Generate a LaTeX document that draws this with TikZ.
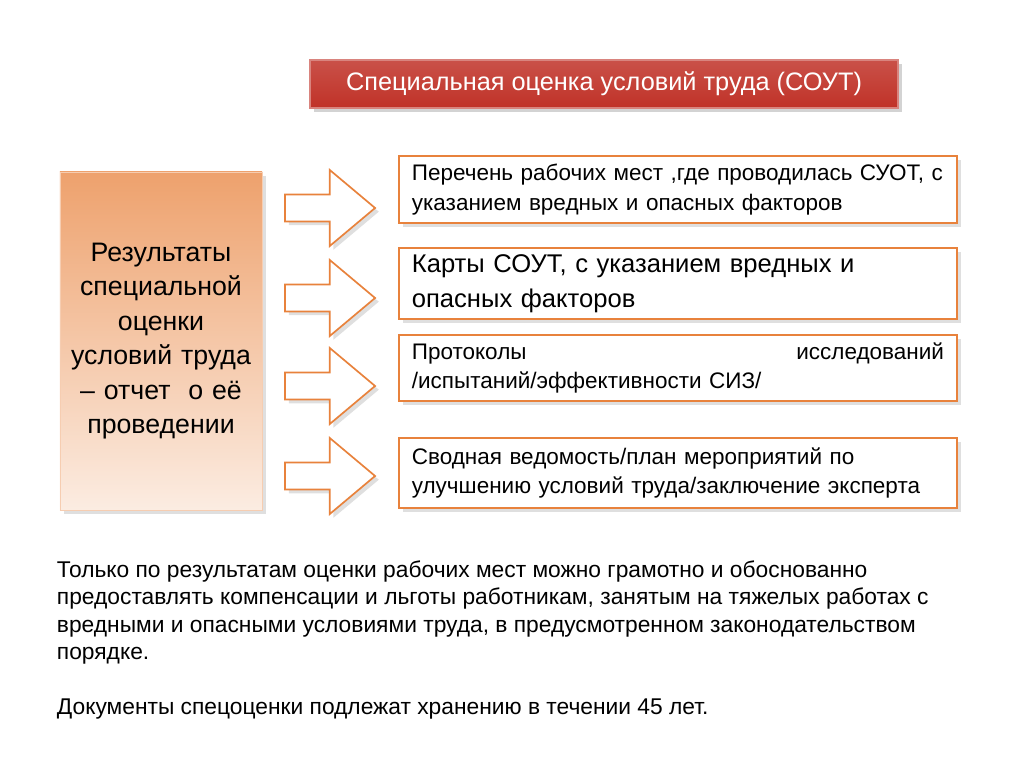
\documentclass[tikz,border=0pt]{standalone}
\usepackage{fontspec}
\setmainfont{Liberation Sans}
\usetikzlibrary{shapes.arrows,shadows}
\definecolor{boxorange}{RGB}{232,130,60}
\definecolor{titlered}{RGB}{192,50,40}
\tikzset{
  listbox/.style={draw=boxorange, line width=1.2pt, fill=white, minimum width=13.95cm, text width=13.3cm, align=left, anchor=north west, drop shadow={opacity=0.25}},
  blockarrow/.style={single arrow, draw=boxorange, line width=1.2pt, fill=white, minimum height=2.25cm, minimum width=1.9cm, single arrow head extend=0.25cm, single arrow tip angle=80, drop shadow={opacity=0.25}}
}
\begin{document}
\begin{tikzpicture}[x=0.025cm,y=-0.025cm]
  \useasboundingbox (0,0) rectangle (1024,767);

  % titre
  \node[draw=titlered!60!white, line width=1pt, top color=titlered!85!white, bottom color=titlered, minimum width=14.7cm, minimum height=1.2cm, text=white, font=\fontsize{18}{22}\selectfont, drop shadow={opacity=0.35}] (title) at (604,84) {Специальная оценка условий труда (СОУТ)};

  % bloc gauche
  \node[draw=boxorange!40, top color=boxorange!75, bottom color=boxorange!15, minimum width=5.05cm, minimum height=8.45cm, text width=4.8cm, align=center, font=\fontsize{19}{24.5}\selectfont, drop shadow={opacity=0.25}] (results) at (161,341) {Результаты специальной оценки условий труда -- отчет\ \ о её проведении};

  % fleches
  \node[blockarrow] (a1) at (322,208) {};
  \node[blockarrow] (a2) at (322,298) {};
  \node[blockarrow] (a3) at (322,386) {};
  \node[blockarrow] (a4) at (322,476) {};

  % cases
  \node[listbox, minimum height=1.68cm, font=\fontsize{16}{21}\selectfont] (list) at (398,155) {Перечень рабочих мест ,где проводилась СУОТ, с указанием вредных и опасных факторов};
  \node[listbox, minimum height=1.78cm, font=\fontsize{18.2}{25}\selectfont] (cards) at (398,247) {Карты СОУТ, с указанием вредных и опасных факторов};
  \node[listbox, minimum height=1.65cm, font=\fontsize{16}{21}\selectfont] (protocols) at (398,334) {Протоколы\hfill исследований\\ /испытаний/эффективности СИЗ/};
  \node[listbox, minimum height=1.75cm, font=\fontsize{16}{21}\selectfont] (summary) at (398,437) {Сводная ведомость/план мероприятий по улучшению условий труда/заключение эксперта};

  % texte
  \node[anchor=north west, align=left, font=\fontsize{16.2}{19.4}\selectfont] (note) at (52,556) {Только по результатам оценки рабочих мест можно грамотно и обоснованно\\ предоставлять компенсации и льготы работникам, занятым на тяжелых работах с\\ вредными и опасными условиями труда, в предусмотренном законодательством\\ порядке.\\[19.4pt] Документы спецоценки подлежат хранению в течении 45 лет.};

\end{tikzpicture}
\end{document}
